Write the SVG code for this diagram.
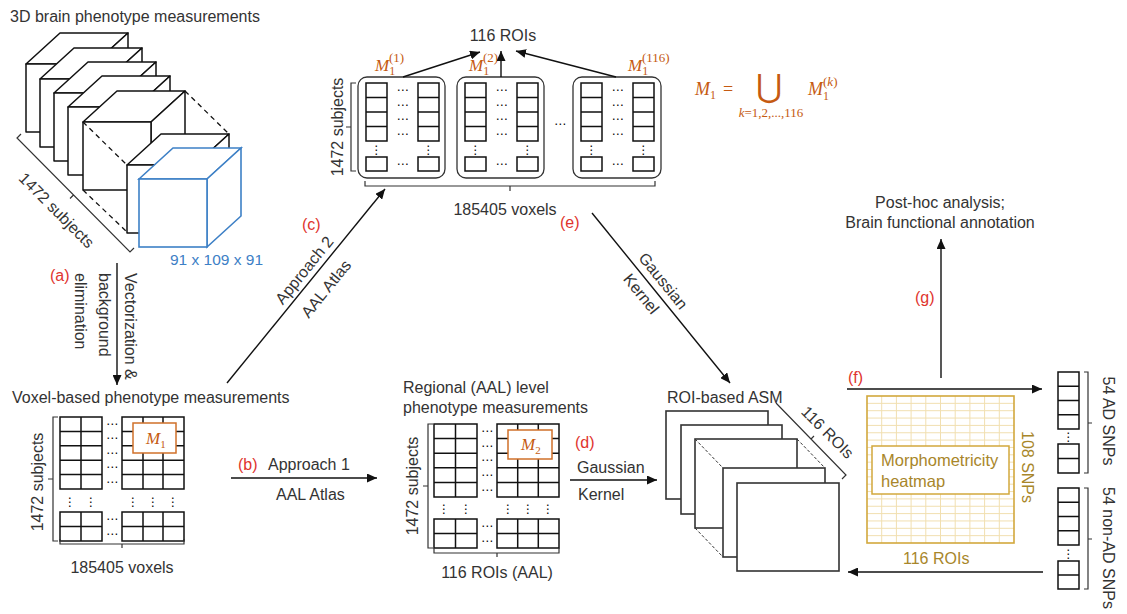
<svg xmlns="http://www.w3.org/2000/svg" xmlns:xlink="http://www.w3.org/1999/xlink" width="1127" height="614" viewBox="0 0 1127 614">
<style>
.t{font-family:"Liberation Sans",Arial,sans-serif;font-size:16px;fill:#333}
.m{text-anchor:middle}
.r{fill:#e0342e}
.b{fill:#3d80c6}
.o{fill:#c55a11}
.g{fill:#a8862a}
.mi{font-family:"Liberation Serif","DejaVu Serif",serif;font-style:italic}
.mr{font-family:"Liberation Serif","DejaVu Serif",serif}
.ln{stroke:#111;stroke-width:1.4;fill:none}
.br{stroke:#333;stroke-width:1.2;fill:none}
.c{fill:#fff;stroke:#111;stroke-width:1.5;stroke-linejoin:round}
.cg{fill:none;stroke:#111;stroke-width:1.5}
.d{font-family:"DejaVu Sans",sans-serif;font-size:12px;fill:#000;text-anchor:middle}
.dash{stroke:#111;stroke-width:1.3;stroke-dasharray:5 4;fill:none}
.fr{fill:#fff;stroke:#333;stroke-width:1.6}
</style>
<defs>
<marker id="ah" markerUnits="userSpaceOnUse" markerWidth="11" markerHeight="9" refX="10" refY="4.5" orient="auto"><path d="M0,0 L10,4.5 L0,9 z" fill="#111"/></marker>
<g id="cube"><polygon class="c" points="0,0 34,-31 102,-31 68,0"/><polygon class="c" points="68,0 102,-31 102,37 68,68"/><rect class="c" x="0" y="0" width="68" height="68"/></g>
<g id="roimat">
<path class="cg" d="M366,83h21v58h-21z M366,97.5h21 M366,112h21 M366,126.5h21 M366,157h21v14h-21z M418,83h21v58h-21z M418,97.5h21 M418,112h21 M418,126.5h21 M418,157h21v14h-21z"/>
<g opacity="0.99">
<text class="d" x="402.5" y="94">⋯</text><text class="d" x="402.5" y="109">⋯</text><text class="d" x="402.5" y="123">⋯</text><text class="d" x="402.5" y="138">⋯</text><text class="d" x="402.5" y="168">⋯</text>
<text class="d" x="376.5" y="154">⋮</text><text class="d" x="428.5" y="154">⋮</text>
</g>
</g>
</defs>

<g id="brain3d">
<text class="t" x="10" y="22">3D brain phenotype measurements</text>
<use xlink:href="#cube" x="26" y="64"/>
<use xlink:href="#cube" x="40" y="79"/>
<use xlink:href="#cube" x="54" y="93"/>
<use xlink:href="#cube" x="68" y="107"/>
<use xlink:href="#cube" x="83" y="122"/>
<path class="dash" d="M83,122L127,165 M185,91L229,134 M83,190L127,232"/>
<use xlink:href="#cube" x="127" y="165"/>
<g transform="translate(139,179)"><polygon points="0,0 34,-31 102,-31 68,0" fill="#fff" stroke="#3d80c6" stroke-width="1.6"/><polygon points="68,0 102,-31 102,37 68,68" fill="#fff" stroke="#3d80c6" stroke-width="1.6"/><rect x="0" y="0" width="68" height="68" fill="#fff" stroke="#3d80c6" stroke-width="1.6"/></g>
<path class="br" d="M21,134L17,138L130,252L134,248 M73.5,195L70,198.5"/>
<text class="t m" transform="translate(57,210) rotate(45)" y="6">1472 subjects</text>
<text class="t b" x="170" y="265" style="font-size:15.5px">91 x 109 x 91</text>
</g>

<g id="voxel">
<text class="t" x="12" y="403">Voxel-based phenotype measurements</text>
<path class="cg" d="M60,417h42v72h-42z M81,417v72 M60,431.4h42 M60,445.8h42 M60,460.2h42 M60,474.6h42 M122,417h62v72h-62z M143,417v72 M163,417v72 M122,431.4h62 M122,445.8h62 M122,460.2h62 M122,474.6h62 M60,512h42v29h-42z M81,512v29 M60,526.5h42 M122,512h62v29h-62z M143,512v29 M163,512v29 M122,526.5h62"/>
<g opacity="0.99">
<text class="d" x="112" y="428">⋯</text><text class="d" x="112" y="442">⋯</text><text class="d" x="112" y="457">⋯</text><text class="d" x="112" y="471">⋯</text><text class="d" x="112" y="486">⋯</text><text class="d" x="112" y="523">⋯</text><text class="d" x="112" y="538">⋯</text>
<text class="d" x="70" y="506">⋮</text><text class="d" x="91" y="506">⋮</text><text class="d" x="133" y="506">⋮</text><text class="d" x="153" y="506">⋮</text><text class="d" x="173" y="506">⋮</text>
</g>
<rect x="133" y="423" width="43" height="30" fill="#fff" stroke="#d0702a" stroke-width="1.5"/>
<text class="o" x="146" y="444" style="font-size:17px"><tspan class="mi">M</tspan><tspan class="mr" font-size="11" dy="4">1</tspan></text>
<path class="br" d="M58,417H53V541H58 M53,479H48 M60,539V544H184V539 M122,544V548"/>
<text class="t m" transform="translate(37,482) rotate(-90)" y="6">1472 subjects</text>
<text class="t m" x="122" y="573">185405 voxels</text>
</g>

<g id="regional">
<text class="t" x="403" y="393">Regional (AAL) level</text>
<text class="t" x="403" y="413">phenotype measurements</text>
<path class="cg" d="M434,424h43v73h-43z M455.5,424v73 M434,438.6h43 M434,453.2h43 M434,467.8h43 M434,482.4h43 M497,424h62v73h-62z M517.7,424v73 M538.3,424v73 M497,438.6h62 M497,453.2h62 M497,467.8h62 M497,482.4h62 M434,519h43v29h-43z M455.5,519v29 M434,533.5h43 M497,519h62v29h-62z M517.7,519v29 M538.3,519v29 M497,533.5h62"/>
<g opacity="0.99">
<text class="d" x="487" y="435">⋯</text><text class="d" x="487" y="450">⋯</text><text class="d" x="487" y="464">⋯</text><text class="d" x="487" y="479">⋯</text><text class="d" x="487" y="494">⋯</text><text class="d" x="487" y="530">⋯</text><text class="d" x="487" y="545">⋯</text>
<text class="d" x="444" y="513">⋮</text><text class="d" x="466" y="513">⋮</text><text class="d" x="508" y="513">⋮</text><text class="d" x="528" y="513">⋮</text><text class="d" x="548" y="513">⋮</text>
</g>
<rect x="508" y="430" width="44" height="29" fill="#fff" stroke="#d0702a" stroke-width="1.5"/>
<text class="o" x="521" y="450" style="font-size:17px"><tspan class="mi">M</tspan><tspan class="mr" font-size="11" dy="4">2</tspan></text>
<path class="br" d="M433,424H428V548H433 M428,486H423 M434,548V553H559V548 M497,553V557"/>
<text class="t m" transform="translate(412,486) rotate(-90)" y="6">1472 subjects</text>
<text class="t m" x="497" y="578">116 ROIs (AAL)</text>
</g>

<g id="rois">
<text class="t m" x="503" y="41">116 ROIs</text>
<rect class="fr" x="358" y="77" width="87" height="101" rx="9" style="stroke-width:1.3"/>
<rect class="fr" x="457" y="77" width="87" height="101" rx="9" style="stroke-width:1.3"/>
<rect class="fr" x="573" y="77" width="88" height="101" rx="9" style="stroke-width:1.3"/>
<use xlink:href="#roimat"/>
<use xlink:href="#roimat" x="99"/>
<use xlink:href="#roimat" x="215"/>
<text class="d" x="560" y="128" opacity="0.99">⋯</text>
<text class="o" x="375" y="71" style="font-size:17px"><tspan class="mi">M</tspan><tspan class="mr" font-size="12" dy="4">1</tspan></text><text class="o mr" x="389" y="62" font-size="13">(1)</text>
<text class="o" x="469" y="71" style="font-size:17px"><tspan class="mi">M</tspan><tspan class="mr" font-size="12" dy="4">1</tspan></text><text class="o mr" x="483" y="62" font-size="13">(2)</text>
<text class="o" x="628" y="71" style="font-size:17px"><tspan class="mi">M</tspan><tspan class="mr" font-size="12" dy="4">1</tspan></text><text class="o mr" x="642" y="62" font-size="13">(116)</text>
<path class="br" d="M356,83H351V171H356 M351,127H346 M365,181V186H655V181 M510,186V191"/>
<text class="t m" transform="translate(337,127) rotate(-90)" y="6">1472 subjects</text>
<text class="t m" x="505" y="215">185405 voxels</text>
</g>

<g id="formula">
<text class="o" x="695" y="95" style="font-size:18px"><tspan class="mi">M</tspan><tspan class="mr" font-size="12" dy="4">1</tspan><tspan class="mr" dy="-4" dx="7">=</tspan></text>
<text class="o m" x="769" y="97" style="font-family:'DejaVu Sans',sans-serif;font-size:32px">⋃</text>
<text class="o m mr" x="771" y="117" font-size="13"><tspan class="mi">k</tspan>=1,2,...,116</text>
<text class="o" x="808" y="95" style="font-size:18px"><tspan class="mi">M</tspan><tspan class="mr" font-size="12" dy="5">1</tspan></text>
<text class="o mr" x="823" y="86" font-size="13">(<tspan class="mi">k</tspan>)</text>
</g>

<g id="asm">
<text class="t" x="667" y="403">ROI-based ASM</text>
<rect class="fr" x="666" y="411" width="102" height="88"/>
<rect class="fr" x="681" y="425" width="101" height="89"/>
<rect class="fr" x="695" y="439" width="102" height="89"/>
<path d="M695,439L723,468 M797,439L825,468 M695,528L723,557" stroke="#333" stroke-width="1" stroke-dasharray="3 2" fill="none"/>
<rect class="fr" x="723" y="468" width="102" height="89"/>
<rect class="fr" x="737" y="483" width="102" height="88"/>
<path class="br" d="M776,403L846,475L842,479 M811,439L814,436"/>
<text class="t m" transform="translate(828,432) rotate(45)" y="6">116 ROIs</text>
</g>

<g id="heatmap">
<rect x="867" y="396" width="147" height="147" fill="#fff"/>
<path stroke="#f1dfb0" stroke-width="1" fill="none" d="M881.7,396V543 M896.4,396V543 M911.1,396V543 M925.8,396V543 M940.5,396V543 M955.2,396V543 M969.9,396V543 M984.6,396V543 M999.3,396V543 M867,403.35H1014 M867,410.7H1014 M867,418.05H1014 M867,425.4H1014 M867,432.75H1014 M867,440.1H1014 M867,447.45H1014 M867,454.8H1014 M867,462.15H1014 M867,469.5H1014 M867,476.85H1014 M867,484.2H1014 M867,491.55H1014 M867,498.9H1014 M867,506.25H1014 M867,513.6H1014 M867,520.95H1014 M867,528.3H1014 M867,535.65H1014"/>
<rect x="867" y="396" width="147" height="147" fill="none" stroke="#d2a83c" stroke-width="1.6"/>
<rect x="872" y="446" width="137" height="48" fill="#fff" stroke="#d2a83c" stroke-width="1.5"/>
<text class="t g" x="881" y="466" style="font-size:16.5px">Morphometricity</text>
<text class="t g" x="881" y="487" style="font-size:16.5px">heatmap</text>
<text class="t g m" transform="translate(1022,467) rotate(90)">108 SNPs</text>
<text class="t g" x="903" y="564">116 ROIs</text>
</g>

<g id="snps">
<path class="cg" d="M1058,372h21v57h-21z M1058,386.25h21 M1058,400.5h21 M1058,414.75h21 M1058,444h21v29h-21z M1058,458.5h21 M1058,488h21v57h-21z M1058,502.25h21 M1058,516.5h21 M1058,530.75h21 M1058,561h21v28h-21z M1058,575h21"/>
<g opacity="0.99">
<text class="d" x="1068.5" y="441">⋮</text>
<text class="d" x="1068.5" y="558">⋮</text>
</g>
<path class="br" d="M1084,372H1088V473H1084 M1088,423H1092 M1084,488H1088V589H1084 M1088,539H1092"/>
<text class="t m" transform="translate(1103,421) rotate(90)">54 AD SNPs</text>
<text class="t m" transform="translate(1103,548) rotate(90)">54 non-AD SNPs</text>
</g>

<g id="posthoc">
<text class="t m" x="940" y="208">Post-hoc analysis;</text>
<text class="t m" x="940" y="228">Brain functional annotation</text>
</g>

<g id="connectors">
<line class="ln" x1="117" y1="263" x2="117" y2="385" marker-end="url(#ah)"/>
<line class="ln" x1="231" y1="478" x2="377" y2="478" marker-end="url(#ah)"/>
<line class="ln" x1="227" y1="383" x2="385" y2="189" marker-end="url(#ah)"/>
<line class="ln" x1="570" y1="480" x2="657" y2="480" marker-end="url(#ah)"/>
<line class="ln" x1="592" y1="213" x2="730" y2="383" marker-end="url(#ah)"/>
<line class="ln" x1="847" y1="389" x2="1042" y2="389" marker-end="url(#ah)"/>
<line class="ln" x1="941" y1="378" x2="941" y2="239" marker-end="url(#ah)"/>
<line class="ln" x1="1043" y1="572" x2="848" y2="572" marker-end="url(#ah)"/>
<line class="ln" x1="403" y1="77" x2="480" y2="52" marker-end="url(#ah)"/>
<line class="ln" x1="501" y1="77" x2="501" y2="51" marker-end="url(#ah)"/>
<line class="ln" x1="616" y1="77" x2="516" y2="51" marker-end="url(#ah)"/>
<text class="t r" x="50" y="281">(a)</text>
<text class="t" transform="translate(125,273) rotate(90)">Vectorization &amp;</text>
<text class="t" transform="translate(99,273) rotate(90)">background</text>
<text class="t" transform="translate(75,273) rotate(90)">elimination</text>
<text class="t r" x="238" y="470">(b)</text>
<text class="t" x="268" y="470">Approach 1</text>
<text class="t" x="276" y="500">AAL Atlas</text>
<text class="t r" x="302" y="230">(c)</text>
<text class="t m" transform="translate(314,278) rotate(-51)" y="-7">Approach 2</text>
<text class="t m" transform="translate(314,279) rotate(-51)" y="21">AAL Atlas</text>
<text class="t r" x="575" y="448">(d)</text>
<text class="t" x="577" y="473">Gaussian</text>
<text class="t" x="578" y="500">Kernel</text>
<text class="t r" x="560" y="228">(e)</text>
<text class="t m" transform="translate(653.5,288.8) rotate(51)" y="-7">Gaussian</text>
<text class="t m" transform="translate(651,286) rotate(51)" y="18">Kernel</text>
<text class="t r" x="848" y="383">(f)</text>
<text class="t r" x="915" y="303">(g)</text>
</g>
</svg>
